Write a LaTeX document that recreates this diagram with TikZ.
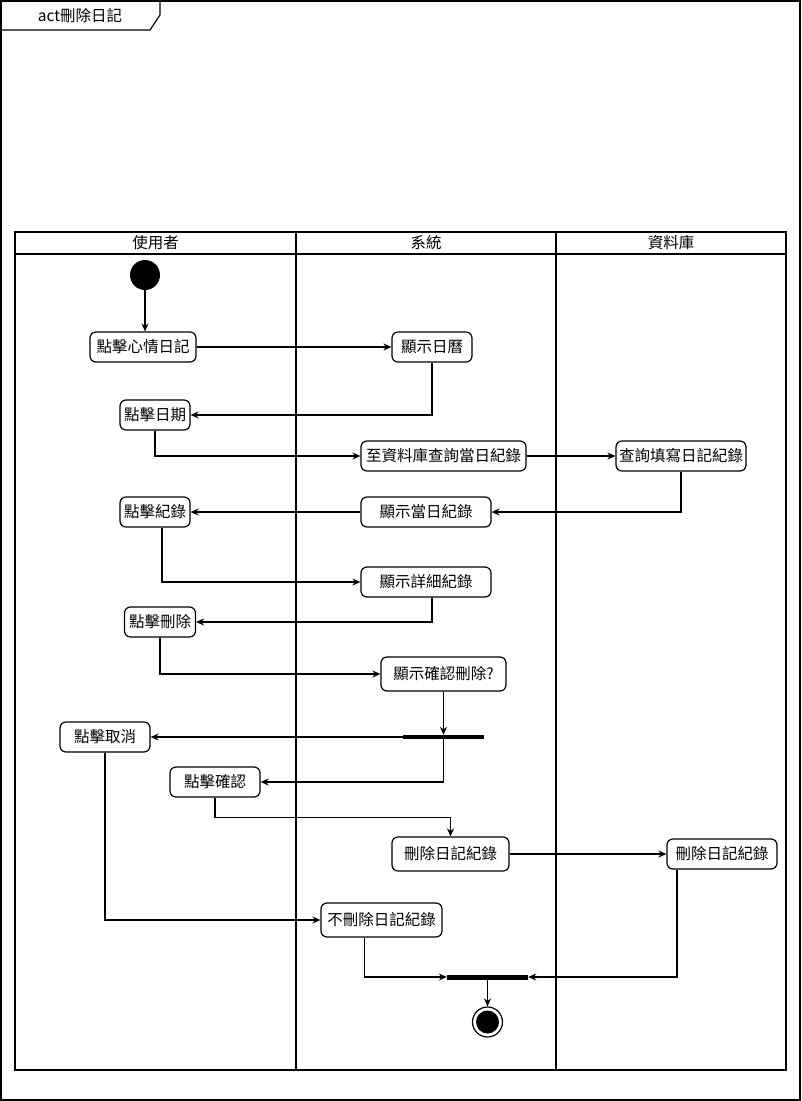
\documentclass[tikz,border=0pt]{standalone}
\usepackage{fontspec}
\setmainfont{Noto Sans CJK TC}
\usepackage{tikz}
\usetikzlibrary{positioning,arrows.meta,calc}

\begin{document}
\begin{tikzpicture}[
  x=1pt, y=-1pt,
  >={Stealth[length=8pt,width=7pt]},
  every node/.style={font=\fontsize{15.5}{18}\selectfont},
  act/.style={
    draw, line width=1.2pt, rounded corners=6pt, align=center,
    inner sep=2pt, minimum height=30pt
  },
  lanehead/.style={font=\fontsize{15.5}{18}\selectfont},
  bar/.style={fill=black, inner sep=0pt, minimum height=5pt},
  flow/.style={draw, line width=1.2pt, ->},
  lane/.style={line width=2pt},
]
\useasboundingbox (0,0) rectangle (801,1101);

% ---------- Frame and title tab ----------
\draw[line width=1.2pt] (1,1) rectangle (800,1100);
\draw[line width=1.2pt] (1,30) -- (150,30) -- (160,15) -- (160,1);
\node (title) at (80,15.5) {act刪除日記};

% ---------- Swimlanes ----------
\draw[line width=1.2pt] (15,232) rectangle (786,1070);
\draw[line width=1.2pt] (15,254) -- (786,254);
\draw[lane] (296,232) -- (296,1070);
\draw[lane] (556,232) -- (556,1070);
\node[lanehead] (h_user) at (155.5,243) {使用者};
\node[lanehead] (h_sys)  at (426,243)   {系統};
\node[lanehead] (h_db)   at (671,243)   {資料庫};

% ---------- Activities ----------
\node[circle, fill=black, minimum size=30pt, inner sep=0pt] (start) at (145,275) {};
% user lane
\node[act, minimum width=106pt] (cl_mood)   at (143,347)   {點擊心情日記};
\node[act, minimum width=70pt]  (cl_date)   at (155,415)   {點擊日期};
\node[act, minimum width=70pt]  (cl_rec)    at (155,512)   {點擊紀錄};
\node[act, minimum width=71pt]  (cl_del)    at (160,622)   {點擊刪除};
\node[act, minimum width=90pt]  (cl_cancel) at (105,737)   {點擊取消};
\node[act, minimum width=90pt]  (cl_ok)     at (215,782)   {點擊確認};
% system lane
\node[act, minimum width=80pt]  (sh_cal)     at (432,347)   {顯示日曆};
\node[act, minimum width=165pt] (q_db)       at (443.5,456) {至資料庫查詢當日紀錄};
\node[act, minimum width=130pt] (sh_day)     at (426,512)   {顯示當日紀錄};
\node[act, minimum width=130pt] (sh_detail)  at (426,582)   {顯示詳細紀錄};
\node[act, minimum width=125pt, minimum height=34pt] (sh_confirm) at (443.5,674) {顯示確認刪除?};
\node[bar, minimum width=81pt, minimum height=4pt] (fork) at (443.5,737) {};
\node[act, minimum width=117pt, minimum height=34pt] (sys_del) at (450.5,854) {刪除日記紀錄};
\node[act, minimum width=121pt, minimum height=34pt] (no_del)  at (381.5,920) {不刪除日記紀錄};
\node[bar, minimum width=81pt] (join) at (487.5,977) {};
\node[circle, draw, line width=1.2pt, minimum size=30pt, inner sep=0pt] (stop) at (487.5,1022) {};
\node[circle, fill=black, minimum size=23pt, inner sep=0pt] at (stop) {};
% database lane
\node[act, minimum width=130pt] (db_query) at (681,456) {查詢填寫日記紀錄};
\node[act, minimum width=110pt] (db_del)   at (722,854) {刪除日記紀錄};

% ---------- Control flow ----------
\draw[flow] (start.south) -- (start.south |- cl_mood.north);
\draw[flow] (cl_mood) -- (sh_cal);
\draw[flow] (sh_cal.south) |- (cl_date.east);
\draw[flow] (cl_date.south) |- (q_db.west);
\draw[flow] (q_db) -- (db_query);
\draw[flow] (db_query.south) |- (sh_day.east);
\draw[flow] (sh_day) -- (cl_rec);
\draw[flow] ([xshift=7pt]cl_rec.south) |- (sh_detail.west);
\draw[flow] ([xshift=6pt]sh_detail.south) |- (cl_del.east);
\draw[flow] (cl_del.south) |- (sh_confirm.west);
\draw[flow] (sh_confirm) -- (fork);
\draw[flow] (fork.west) -- (cl_cancel.east);
\draw[flow] (fork.south) |- (cl_ok.east);
\draw[flow] (cl_ok.south) -- ++(0,20) -| (sys_del.north);
\draw[flow] (sys_del) -- (db_del);
\draw[flow] (cl_cancel.south) |- (no_del.west);
\draw[flow] ([xshift=-17pt]no_del.south) |- (join.west);
\draw[flow] ([xshift=-45pt]db_del.south) |- (join.east);
\draw[flow] (join) -- (stop);

\end{tikzpicture}
\end{document}
